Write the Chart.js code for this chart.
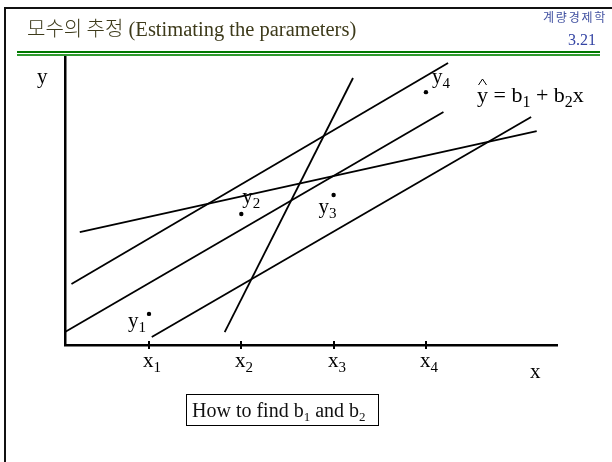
<!DOCTYPE html>
<html>
<head>
<meta charset="utf-8">
<script src="https://cdn.jsdelivr.net/npm/chart.js@4/dist/chart.umd.min.js"></script>
<style>
  body { margin: 0; background: #fff; }
  #slide { position: relative; width: 612px; height: 462px; overflow: hidden; background: #fff; }
  #plot { position: absolute; left: 0; top: 0; }
  #frame { position: absolute; left: 4px; top: 7px; width: 700px; height: 600px;
           border-top: 2.5px solid #111; border-left: 2px solid #111; }
  #title { position: absolute; left: 27px; top: 18px; font-size: 20px; line-height: 20px;
           color: #3d3a1a; white-space: nowrap; }
  #title .ko { font-family: "Noto Sans CJK KR"; font-weight: 300; }
  #title .en { font-family: "Liberation Serif"; font-size: 20.5px; }
  #course { position: absolute; left: 543px; top: 10px; font-family: "Noto Sans CJK KR";
            font-size: 12px; line-height: 14px; color: #4050a0; letter-spacing: 1.8px; }
  #page { position: absolute; left: 568px; top: 32px; font-family: "Liberation Serif";
          font-size: 16px; line-height: 16px; color: #3444a4; }
  #rule1 { position: absolute; left: 17px; top: 51px; width: 583px; height: 2px; background: #007800; }
  #rule2 { position: absolute; left: 17px; top: 54px; width: 583px; height: 2px; background: #2f9a2f; }
  #note { position: absolute; left: 186px; top: 394px; width: 186px; height: 30px;
          border: 1.5px solid #000; font-family: "Liberation Serif"; font-size: 20px;
          line-height: 30px; padding-left: 5px; color: #111; white-space: nowrap; }
  #note sub { font-size: 13px; vertical-align: -4px; line-height: 0; }
</style>
</head>
<body>
<div id="slide">
  <canvas id="plot" width="612" height="462"></canvas>
  <div id="frame"></div>
  <div id="title"><span class="ko">모수의 추정</span><span class="en"> (Estimating the parameters)</span></div>
  <div id="course">계량경제학</div>
  <div id="page">3.21</div>
  <div id="rule1"></div>
  <div id="rule2"></div>
  <div id="note">How to find b<sub>1</sub> and b<sub>2</sub></div>
</div>
<script>
  // x positions of the observations and their tick names
  const tickValues = [1, 2, 3, 4];
  const tickNames = [['x', '1'], ['x', '2'], ['x', '3'], ['x', '4']];

  // observed points
  const obsX = [1, 2, 3, 4];
  const obsY = [1.08, 4.55, 5.21, 8.78];
  const obsNames = [['y', '1'], ['y', '2'], ['y', '3'], ['y', '4']];

  // candidate lines, two end points each
  const lineAX = [0.16, 4.24], lineAY = [2.12, 9.79];
  const lineBX = [0.09, 4.19], lineBY = [0.45, 8.09];
  const lineCX = [1.03, 5.14], lineCY = [0.28, 7.92];
  const lineDX = [0.25, 5.20], lineDY = [3.92, 7.43];
  const lineEX = [1.82, 3.21], lineEY = [0.45, 9.27];

  // label offsets from each dot, in pixels
  const obsLabelOffsets = [[-21, 13], [1, -11], [-15, 18], [6, -9]];

  const serif = '"Liberation Serif", "Times New Roman", serif';

  function toPoints(xs, ys) {
    return xs.map((v, i) => ({ x: v, y: ys[i] }));
  }

  function lineSet(xs, ys) {
    return {
      data: toPoints(xs, ys),
      showLine: true,
      borderColor: '#000',
      borderWidth: 1.8,
      pointRadius: 0,
      clip: false
    };
  }

  // text with a lowered small index, returns end x
  function drawSub(ctx, base, sub, x, y, size = 21) {
    ctx.font = size + 'px ' + serif;
    ctx.fillText(base, x, y);
    let w = ctx.measureText(base).width;
    if (sub) {
      ctx.font = Math.round(size * 0.72) + 'px ' + serif;
      ctx.fillText(sub, x + w, y + 5);
      w += ctx.measureText(sub).width;
    }
    return x + w;
  }

  const annotate = {
    id: 'annotate',
    afterDatasetsDraw(chart) {
      const { ctx, scales: { x, y } } = chart;
      const axisY = y.getPixelForValue(0);
      ctx.save();
      ctx.fillStyle = '#000';
      ctx.strokeStyle = '#000';
      ctx.textBaseline = 'alphabetic';

      // tick marks and x names
      ctx.lineWidth = 2;
      tickValues.forEach((v, i) => {
        const px = Math.round(x.getPixelForValue(v));
        ctx.beginPath();
        ctx.moveTo(px, axisY - 4);
        ctx.lineTo(px, axisY + 4);
        ctx.stroke();
        drawSub(ctx, tickNames[i][0], tickNames[i][1], px - 6, axisY + 22);
      });

      // observation names
      obsX.forEach((v, i) => {
        const px = x.getPixelForValue(v) + obsLabelOffsets[i][0];
        const py = y.getPixelForValue(obsY[i]) + obsLabelOffsets[i][1];
        drawSub(ctx, obsNames[i][0], obsNames[i][1], px, py);
      });

      // axis names
      ctx.font = '21px ' + serif;
      ctx.fillText('y', chart.chartArea.left - 28, chart.chartArea.top + 26);
      ctx.fillText('x', chart.chartArea.right - 27, axisY + 33);

      // fitted line formula, y with a hat
      const ex = chart.chartArea.right - 80, ey = chart.chartArea.top + 45;
      ctx.font = '22px ' + serif;
      const yw = ctx.measureText('y').width;
      ctx.fillText('y', ex, ey);
      ctx.lineWidth = 1;
      ctx.beginPath();
      ctx.moveTo(ex + 1.5, ey - 17);
      ctx.lineTo(ex + yw / 2, ey - 23);
      ctx.lineTo(ex + yw - 1.5, ey - 17);
      ctx.stroke();
      let cx = ex + yw;
      cx = drawSub(ctx, ' = b', '1', cx, ey, 22);
      cx = drawSub(ctx, ' + b', '2', cx, ey, 22);
      drawSub(ctx, 'x', null, cx, ey, 22);
      ctx.restore();
    }
  };

  new Chart(document.getElementById('plot'), {
    type: 'scatter',
    data: {
      datasets: [
        lineSet(lineAX, lineAY),
        lineSet(lineBX, lineBY),
        lineSet(lineCX, lineCY),
        lineSet(lineDX, lineDY),
        lineSet(lineEX, lineEY),
        {
          data: toPoints(obsX, obsY),
          pointRadius: 2.2,
          pointBackgroundColor: '#000',
          pointBorderWidth: 0,
          clip: false
        }
      ]
    },
    options: {
      responsive: false,
      animation: false,
      devicePixelRatio: 1,
      layout: { padding: { left: 65, top: 57, right: 55, bottom: 117 } },
      plugins: { legend: { display: false }, tooltip: { enabled: false } },
      scales: {
        x: {
          type: 'linear', min: 0.09, max: 5.42,
          grid: { display: false, drawTicks: false },
          ticks: { display: false },
          border: { display: true, color: '#000', width: 2.5 }
        },
        y: {
          type: 'linear', min: 0, max: 10,
          grid: { display: false, drawTicks: false },
          ticks: { display: false },
          border: { display: true, color: '#000', width: 2.5 }
        }
      }
    },
    plugins: [annotate]
  });
</script>
</body>
</html>
